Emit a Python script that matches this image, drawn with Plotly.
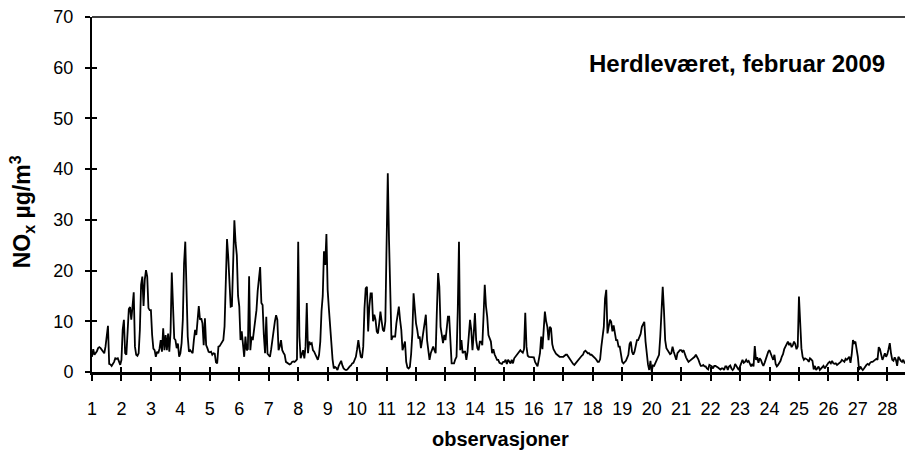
import plotly.graph_objects as go

# --- Hourly NOx (µg/m3), Herdleværet, February 2009, one list per day ---
day01 = [3.0, 4.5, 3.4, 3.7, 4.1, 4.7, 4.9, 4.7, 4.3, 4.0, 3.7, 5.0, 7.0, 9.1, 1.6, 1.5, 1.2, 1.6, 2.0, 2.7, 2.6, 2.7, 2.0, 1.4]
day02 = [2.4, 8.3, 10.3, 3.7, 3.4, 8.3, 12.4, 12.8, 10.3, 12.9, 15.7, 5.0, 3.4, 3.2, 3.7, 8.3, 17.2, 18.8, 13.0, 18.2, 20.1, 18.8, 12.6, 12.2]
day03 = [12.2, 7.3, 4.6, 4.3, 3.0, 4.0, 3.7, 4.6, 6.3, 4.0, 8.6, 4.3, 7.3, 4.3, 7.6, 4.0, 7.9, 19.6, 13.5, 6.6, 6.3, 4.7, 5.6, 3.0]
day04 = [3.7, 5.7, 10.3, 21.4, 25.7, 14.2, 7.0, 4.0, 4.3, 4.0, 3.7, 6.3, 8.3, 7.3, 10.3, 13.0, 10.3, 10.6, 9.6, 5.3, 10.6, 5.3, 4.7, 4.0]
day05 = [3.9, 4.0, 3.4, 3.7, 3.6, 1.9, 1.7, 5.0, 5.1, 5.5, 6.0, 6.3, 9.0, 20.0, 26.2, 22.7, 17.0, 12.9, 13.0, 22.0, 29.9, 25.5, 23.0, 15.0]
day06 = [12.9, 6.3, 8.0, 5.5, 3.0, 7.0, 4.3, 4.5, 18.9, 4.3, 7.0, 6.3, 8.0, 10.0, 12.2, 16.0, 18.0, 20.7, 13.6, 13.2, 7.3, 3.7, 10.9, 3.6]
day07 = [3.3, 3.0, 4.5, 6.5, 8.9, 10.0, 11.2, 10.3, 4.3, 5.0, 6.3, 4.3, 3.8, 3.4, 2.0, 1.8, 1.7, 1.5, 1.6, 2.0, 2.1, 2.0, 2.2, 2.5]
day08 = [25.7, 7.0, 2.7, 3.5, 4.3, 2.7, 5.0, 13.6, 3.7, 6.0, 5.5, 5.7, 4.3, 4.0, 3.5, 3.0, 2.4, 3.4, 6.0, 12.0, 15.0, 23.8, 21.1, 27.2]
day09 = [16.2, 12.5, 9.0, 6.0, 2.5, 0.7, 1.0, 0.8, 0.4, 1.2, 1.7, 2.2, 1.3, 0.7, 0.5, 0.4, 0.5, 0.9, 1.1, 1.3, 1.7, 1.8, 2.6, 3.0]
day10 = [4.5, 6.3, 4.5, 3.0, 2.8, 5.0, 12.5, 16.5, 16.8, 8.0, 13.0, 15.5, 15.5, 10.0, 11.3, 10.3, 8.0, 7.6, 9.6, 11.9, 10.0, 8.3, 8.0, 10.0]
day11 = [25.0, 39.2, 26.0, 14.0, 6.3, 7.0, 7.0, 7.0, 9.6, 10.9, 12.9, 10.3, 8.3, 4.3, 5.3, 6.0, 2.0, 0.9, 0.7, 1.0, 3.5, 7.6, 15.5, 12.0]
day12 = [9.6, 8.3, 6.6, 7.0, 4.7, 6.3, 8.3, 10.3, 11.3, 6.3, 4.7, 2.4, 3.7, 4.3, 5.0, 4.3, 3.7, 12.2, 19.5, 16.8, 8.9, 7.3, 5.7, 7.3]
day13 = [6.3, 8.5, 10.9, 10.9, 5.0, 1.7, 1.7, 1.7, 2.5, 3.0, 12.0, 25.7, 4.3, 6.3, 3.7, 4.0, 4.0, 2.4, 4.0, 7.0, 10.3, 8.3, 4.3, 7.5]
day14 = [11.6, 6.3, 4.7, 4.3, 6.0, 6.0, 5.3, 11.0, 17.2, 13.0, 10.9, 7.3, 6.6, 6.0, 3.7, 4.5, 3.5, 3.0, 2.4, 2.4, 1.8, 1.7, 1.6, 2.0]
day15 = [2.0, 2.4, 1.6, 2.4, 2.0, 1.7, 2.4, 1.7, 2.7, 3.0, 3.4, 3.7, 4.0, 4.3, 4.0, 3.8, 4.5, 11.7, 5.0, 3.2, 3.0, 3.0, 3.0, 3.0]
day16 = [2.9, 2.0, 1.4, 1.1, 2.4, 3.7, 7.0, 4.5, 8.3, 11.9, 10.0, 8.9, 6.3, 8.9, 8.6, 5.5, 4.5, 4.0, 3.6, 3.4, 3.2, 3.0, 3.0, 3.0]
day17 = [3.0, 3.2, 3.4, 3.4, 3.0, 2.6, 2.4, 2.0, 1.6, 1.4, 1.7, 2.2, 2.4, 2.7, 3.0, 3.2, 3.4, 4.0, 4.2, 3.9, 3.7, 3.7, 3.4, 3.4]
day18 = [3.2, 3.0, 2.7, 2.4, 2.0, 2.0, 2.5, 5.0, 7.0, 8.9, 14.5, 16.2, 7.6, 9.0, 10.3, 9.9, 8.0, 9.2, 7.6, 6.3, 6.3, 5.0, 5.0, 3.0]
day19 = [2.0, 1.7, 2.0, 2.2, 2.8, 3.4, 5.5, 6.0, 4.0, 3.4, 4.0, 5.0, 6.3, 6.3, 6.8, 7.5, 8.9, 9.5, 9.9, 6.0, 3.0, 1.5, 0.4, 2.2]
day20 = [0.1, 1.3, 1.2, 1.7, 2.4, 2.9, 3.4, 7.0, 12.0, 16.8, 12.2, 6.3, 4.7, 4.3, 3.8, 3.5, 3.7, 5.0, 4.0, 3.0, 2.4, 3.7, 4.0, 4.3]
day21 = [4.3, 4.0, 4.3, 3.4, 2.9, 2.4, 2.0, 2.2, 2.4, 2.5, 2.7, 3.0, 3.4, 3.0, 2.5, 1.8, 1.2, 1.2, 1.4, 1.1, 1.1, 0.7, 0.5, 1.4]
day22 = [1.2, 1.1, 0.7, 1.2, 1.2, 1.1, 0.9, 0.7, 0.5, 0.7, 0.7, 0.4, 1.1, 1.1, 0.4, 1.1, 1.3, 0.7, 0.4, 0.7, 1.6, 1.2, 0.7, 0.4]
day23 = [1.1, 2.0, 2.4, 1.8, 2.0, 2.4, 2.0, 2.2, 1.7, 1.1, 1.6, 1.1, 5.1, 2.4, 2.9, 1.8, 2.7, 2.4, 1.7, 1.2, 1.8, 2.7, 3.2, 4.0]
day24 = [4.3, 3.8, 3.0, 2.4, 3.4, 1.6, 1.1, 1.4, 1.7, 2.2, 3.0, 3.5, 4.5, 5.1, 5.7, 6.0, 5.3, 5.7, 4.9, 5.3, 6.0, 5.5, 4.5, 5.0]
day25 = [14.9, 9.0, 4.7, 3.0, 2.4, 2.7, 2.5, 2.4, 2.0, 2.7, 2.5, 2.2, 0.5, 1.2, 0.4, 0.9, 1.1, 0.4, 0.7, 1.1, 1.2, 0.7, 1.1, 1.4]
day26 = [1.8, 2.0, 1.7, 2.2, 1.7, 1.6, 1.7, 1.4, 1.6, 1.8, 2.0, 2.4, 2.2, 2.0, 2.6, 2.4, 2.7, 3.0, 1.8, 3.5, 6.3, 5.7, 6.0, 4.7]
day27 = [3.0, 0.4, 1.1, 0.7, 0.4, 0.7, 1.1, 1.4, 1.6, 1.4, 1.8, 2.0, 2.0, 2.2, 2.5, 2.6, 2.4, 4.9, 4.5, 3.0, 2.4, 3.0, 3.7, 3.0]
day28 = [3.5, 4.5, 5.7, 3.7, 2.4, 2.2, 2.9, 2.4, 1.2, 3.0, 2.5, 2.2, 2.0, 2.4, 1.8, 1.8]

days = [day01, day02, day03, day04, day05, day06, day07, day08, day09, day10,
        day11, day12, day13, day14, day15, day16, day17, day18, day19, day20,
        day21, day22, day23, day24, day25, day26, day27, day28]

day_labels = [str(d) for d in range(1, 29)]
y_ticks = [0, 10, 20, 30, 40, 50, 60, 70]

TITLE = "Herdleværet, februar 2009"
FONT = "Liberation Sans, Arial, sans-serif"

# observation position: day number + hour / 24
x_vals, y_vals = [], []
for d, values in enumerate(days, start=1):
    for h, v in enumerate(values):
        x_vals.append(d + h / 24)
        y_vals.append(v)

fig = go.Figure()
fig.add_trace(
    go.Scatter(
        x=x_vals,
        y=y_vals,
        mode="lines",
        line=dict(color="black", width=1.8),
        showlegend=False,
        hoverinfo="skip",
    )
)
# invisible trace so the overlay axes (inside half of the crossing ticks) get drawn
fig.add_trace(
    go.Scatter(
        x=[1], y=[0], xaxis="x2", yaxis="y2", mode="markers",
        marker=dict(opacity=0), showlegend=False, hoverinfo="skip",
    )
)

X_RANGE = [1, 28.6]
Y_RANGE = [0, 70]

fig.update_layout(
    width=905,
    height=452,
    margin=dict(l=92, r=0, t=17, b=80),
    paper_bgcolor="white",
    plot_bgcolor="white",
    font=dict(family=FONT, size=18, color="black"),
    xaxis=dict(
        range=X_RANGE,
        tickvals=list(range(1, 29)),
        ticktext=day_labels,
        ticks="outside",
        ticklen=6,
        tickwidth=1.5,
        tickcolor="black",
        showline=True,
        linecolor="black",
        linewidth=2.5,
        showgrid=False,
        zeroline=False,
        ticklabelstandoff=13,
        tickfont=dict(size=18),
    ),
    xaxis2=dict(
        range=X_RANGE,
        overlaying="x",
        anchor="y",
        side="bottom",
        tickvals=list(range(1, 29)),
        ticks="inside",
        ticklen=5,
        tickwidth=1.5,
        tickcolor="black",
        showticklabels=False,
        showline=False,
        showgrid=False,
        zeroline=False,
    ),
    yaxis=dict(
        range=Y_RANGE,
        tickvals=y_ticks,
        ticks="outside",
        ticklen=5,
        tickwidth=1.5,
        tickcolor="black",
        showline=True,
        linecolor="black",
        linewidth=2,
        showgrid=False,
        zeroline=False,
        ticklabelstandoff=8,
        tickfont=dict(size=18),
    ),
    yaxis2=dict(
        range=Y_RANGE,
        overlaying="y",
        anchor="x",
        side="left",
        tickvals=y_ticks,
        ticks="inside",
        ticklen=5,
        tickwidth=1.5,
        tickcolor="black",
        showticklabels=False,
        showline=False,
        showgrid=False,
        zeroline=False,
    ),
    shapes=[
        dict(type="line", xref="paper", yref="paper", x0=0, x1=1, y0=1, y1=1,
             line=dict(color="black", width=1.3)),
    ],
    annotations=[
        dict(text=f"<b>{TITLE}</b>", xref="paper", yref="paper",
             x=0.978, y=0.87, xanchor="right", yanchor="middle",
             showarrow=False, font=dict(size=24)),
        dict(text="<b>NO<sub>x</sub> µg/m<sup>3</sup></b>", xref="paper", yref="paper",
             x=-0.086, y=0.45, xanchor="center", yanchor="middle", textangle=-90,
             showarrow=False, font=dict(size=23)),
        dict(text="<b>observasjoner</b>", xref="paper", yref="paper",
             x=0.502, y=-0.19, xanchor="center", yanchor="middle",
             showarrow=False, font=dict(size=20)),
    ],
)

# the page's default body margin would shift the figure by 8 px
fig.write_html(
    "out.html",
    config={"displayModeBar": False},
    post_script="document.body.style.margin = '0';",
)
